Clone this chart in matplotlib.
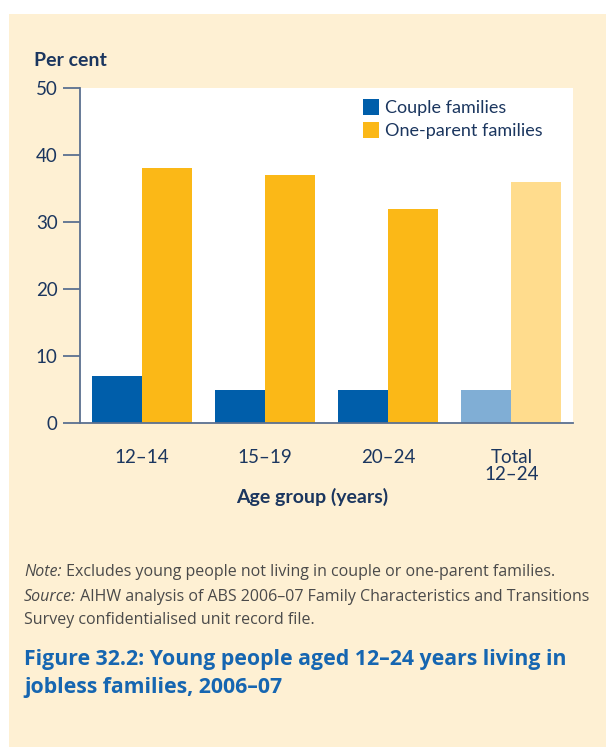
import matplotlib
matplotlib.use("Agg")
import matplotlib.pyplot as plt
from matplotlib.patches import Rectangle, Patch
import numpy as np
from matplotlib import font_manager as fm

categories = ["12–14", "15–19", "20–24", "Total\n12–24"]
couple = [7, 5, 5, 5]
one_parent = [38, 37, 32, 36]
series_names = ["Couple families", "One-parent families"]
yticks = [0, 10, 20, 30, 40, 50]

names = {f.name for f in fm.fontManager.ttflist}
COND = "Liberation Sans Narrow" if "Liberation Sans Narrow" in names else ("Lato" if "Lato" in names else "DejaVu Sans")
BODY = "Open Sans" if "Open Sans" in names else "DejaVu Sans"

W, H = 606, 747
fig = plt.figure(figsize=(W / 100, H / 100), dpi=100)
fig.patch.set_facecolor("white")
cream = "#FEF0D3"
fig.patches.append(Rectangle((9 / W, 0), 1, 1 - 14 / H, transform=fig.transFigure,
                             facecolor=cream, edgecolor="none", zorder=-10))

navy = "#1B365F"
axcol = "#5B7090"

ax = fig.add_axes([80 / W, (H - 423) / H, 493 / W, 335 / H])
ax.set_zorder(1)
ax.set_facecolor("white")
x = np.arange(len(categories))
w = 0.405
c_cols = ["#005EAA"] * 3 + ["#80AED5"]
o_cols = ["#FBB817"] * 3 + ["#FFDC8D"]
ax.bar(x - w / 2, couple, width=w, color=c_cols, label=series_names[0], zorder=2)
ax.bar(x + w / 2, one_parent, width=w, color=o_cols, label=series_names[1], zorder=2)
ax.set_xlim(-0.5, 3.5)
ax.set_ylim(0, 50)
ax.set_yticks(yticks)
ax.set_yticklabels([str(v) for v in yticks], fontfamily=COND, fontsize=13.5, color=navy)
ax.set_xticks(x)
ax.set_xticklabels(categories, fontfamily=COND, fontsize=13.5, color=navy, linespacing=0.95)
ax.tick_params(axis="x", length=0, pad=19)
ax.tick_params(axis="y", length=12, width=1.3, color=axcol, pad=4)
for s in ["top", "right"]:
    ax.spines[s].set_visible(False)
for s in ["left", "bottom"]:
    ax.spines[s].set_color(axcol)
    ax.spines[s].set_linewidth(1.3)

handles = [Patch(facecolor="#005EAA"), Patch(facecolor="#FBB817")]
leg = fig.legend(handles, series_names, loc="upper left",
                 bbox_to_anchor=(363 / W, 1 - 99 / H), frameon=False,
                 prop={"family": COND, "size": 13}, handlelength=0.9, handleheight=0.95,
                 handletextpad=0.3, labelspacing=0.35, borderpad=0, borderaxespad=0)
leg.set_zorder(5)
for t in leg.get_texts():
    t.set_color(navy)

fig.text(34 / W, 1 - 60 / H, "Per cent", fontfamily=COND, fontweight="bold",
         fontsize=14, color=navy, va="center", ha="left")
fig.text(312 / W, 1 - 497 / H, "Age group (years)", fontfamily=COND, fontweight="bold",
         fontsize=14, color=navy, va="center", ha="center")

gray = "#4A4A4A"
fig.canvas.draw()
r = fig.canvas.get_renderer()

def mixed(xp, yp, parts, size):
    cx = xp
    for txt, style in parts:
        t = fig.text(cx / W, 1 - yp / H, txt, fontfamily=BODY, fontstyle=style,
                     fontsize=size, color=gray, va="center", ha="left")
        bb = t.get_window_extent(renderer=r)
        cx += bb.width

ns = 11.5
mixed(24, 572, [("Note:", "italic"), (" Excludes young people not living in couple or one-parent families.", "normal")], ns)
mixed(24, 597, [("Source:", "italic"), (" AIHW analysis of ABS 2006–07 Family Characteristics and Transitions", "normal")], ns)
mixed(24, 620, [("Survey confidentialised unit record file.", "normal")], ns)

blue = "#1666B1"
fig.text(24 / W, 1 - 660 / H, "Figure 32.2: Young people aged 12–24 years living in",
         fontfamily=BODY, fontweight="bold", fontsize=15.3, color=blue, va="center", ha="left")
fig.text(24 / W, 1 - 688 / H, "jobless families, 2006–07",
         fontfamily=BODY, fontweight="bold", fontsize=15.3, color=blue, va="center", ha="left")

fig.savefig("out.png", dpi=100, facecolor="white")
